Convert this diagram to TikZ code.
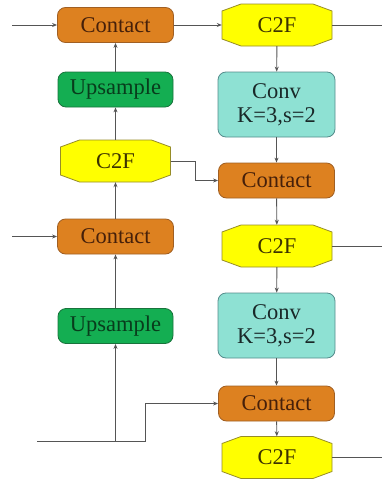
\documentclass[tikz,border=0pt]{standalone}
\usepackage{fontspec}
\setmainfont{Liberation Serif}
\newfontfamily\blockfont{Liberation Serif}
\usetikzlibrary{arrows.meta}

\definecolor{ctfill}{RGB}{221,129,32}
\definecolor{ctedge}{RGB}{160,95,35}
\definecolor{cttext}{RGB}{70,32,10}
\definecolor{upfill}{RGB}{20,174,82}
\definecolor{upedge}{RGB}{25,115,60}
\definecolor{uptext}{RGB}{8,60,28}
\definecolor{cvfill}{RGB}{142,225,211}
\definecolor{cvedge}{RGB}{85,140,140}
\definecolor{cvtext}{RGB}{25,40,40}
\definecolor{cffill}{RGB}{255,255,0}
\definecolor{cfedge}{RGB}{150,140,40}
\definecolor{cftext}{RGB}{60,50,0}
\definecolor{wire}{RGB}{85,85,85}

\tikzset{
  lbl/.style={font=\blockfont\fontsize{22.5}{25}\selectfont, align=center, inner sep=0pt},
  contactbox/.style={lbl, draw=ctedge, fill=ctfill, text=cttext, rounded corners=8pt,
                     minimum width=116pt, minimum height=35pt, line width=0.8pt},
  upbox/.style={lbl, draw=upedge, fill=upfill, text=uptext, rounded corners=8pt,
                minimum width=115pt, minimum height=35pt, line width=0.8pt},
  convbox/.style={lbl, draw=cvedge, fill=cvfill, text=cvtext, rounded corners=8pt,
                  minimum width=117pt, minimum height=65pt, line width=0.8pt},
  cfbox/.style={lbl, text=cftext, minimum width=110pt, minimum height=42pt},
  cfshape/.style={draw=cfedge, fill=cffill, line width=0.8pt},
  wireline/.style={draw=wire, line width=0.9pt},
  flow/.style={wireline, -{Stealth[length=5pt,width=4pt]}},
}

% octagonal C2F block: name, centre x, centre y
\newcommand\octblock[3]{%
  \path[cfshape] ({#2-36},{#3-21}) -- ({#2+36},{#3-21}) -- ({#2+55},{#3-14})
    -- ({#2+55},{#3+14}) -- ({#2+36},{#3+21}) -- ({#2-36},{#3+21})
    -- ({#2-55},{#3+14}) -- ({#2-55},{#3-14}) -- cycle;
  \node[cfbox] (#1) at (#2,#3) {C2F};
}

\begin{document}
\begin{tikzpicture}[x=1pt, y=-1pt]
\useasboundingbox (0,0) rectangle (382,482);

% left column
\node[contactbox] (ct1) at (115.5,25) {Contact};
\node[upbox] (up1) at (115.5,89.5) {Upsample};
\octblock{cf1}{115.5}{161}
\node[contactbox] (ct2) at (115.5,236.5) {Contact};
\node[upbox] (up2) at (115.5,326) {Upsample};

% right column
\octblock{cf2}{277}{25}
\node[convbox] (cv1) at (276.5,104.5) {Conv\\[-1pt]K=3,s=2};
\node[contactbox] (ct3) at (276.5,180.5) {Contact};
\octblock{cf3}{277}{246}
\node[convbox] (cv2) at (276.5,325.5) {Conv\\[-1pt]K=3,s=2};
\node[contactbox] (ct4) at (276.5,403.5) {Contact};
\octblock{cf4}{277}{457.5}

% free ends
\coordinate (in1) at (12,25);
\coordinate (in2) at (12,236.5);
\coordinate (in3) at (37,441);
\coordinate (out1) at (382,25);
\coordinate (out2) at (382,246);
\coordinate (out3) at (382,457.5);

% left column flow
\draw[flow] (in1) -- (ct1);
\draw[flow] (in2) -- (ct2);
\draw[flow] (up1) -- (ct1);
\draw[flow] (cf1) -- (up1);
\draw[flow] (ct2) -- (cf1);
\draw[flow] (up2) -- (ct2);
\draw[wireline] (in3) -- (145,441) -- (145,403.5);
\draw[flow] (115.5,441) -- (up2);
\draw[flow] (145,403.5) -- (ct4);

% right column flow
\draw[flow] (ct1) -- (cf2);
\draw[wireline] (cf2) -- (out1);
\draw[flow] (cf2) -- (cv1);
\draw[flow] (cv1) -- (ct3);
\draw[flow] (cf1.east) -- (195,161) -- (195,180.5) -- (ct3);
\draw[flow] (ct3) -- (cf3);
\draw[wireline] (cf3) -- (out2);
\draw[flow] (cf3) -- (cv2);
\draw[flow] (cv2) -- (ct4);
\draw[flow] (ct4) -- (cf4);
\draw[wireline] (cf4) -- (out3);
\end{tikzpicture}
\end{document}
